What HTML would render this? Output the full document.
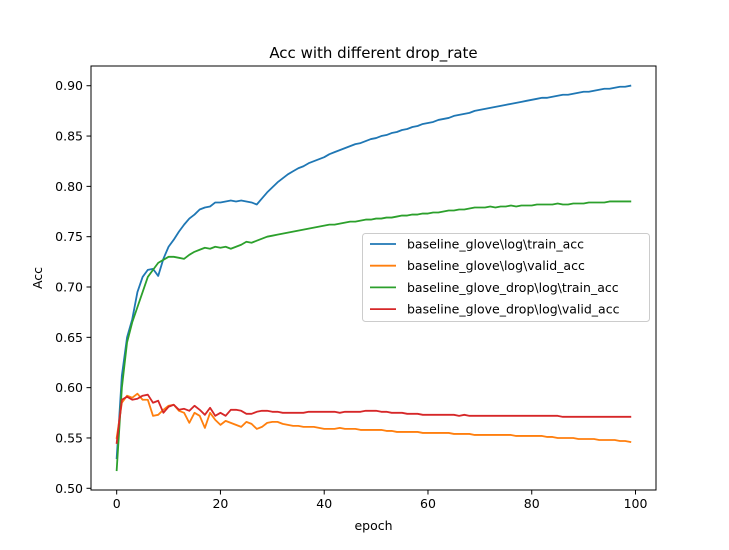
<!DOCTYPE html>
<html><head><meta charset="utf-8"><style>
body{margin:0;background:#fff;}
svg{display:block;font-family:"DejaVu Sans","Liberation Sans",sans-serif;}
</style></head><body>
<svg id="chart" width="729" height="550" viewBox="0 0 729 550"></svg>
<script>
const epochs = Array.from({length:100},(_,i)=>i);
const trainAcc = [.530,.612,.650,.668,.695,.710,.717,.718,.711,.728,
.740,.747,.755,.762,.768,.772,.777,.779,.780,.784,
.784,.785,.786,.785,.786,.785,.784,.782,.788,.794,
.799,.804,.808,.812,.815,.818,.820,.823,.825,.827,
.829,.832,.834,.836,.838,.840,.842,.843,.845,.847,
.848,.850,.851,.853,.854,.856,.857,.859,.860,.862,
.863,.864,.866,.867,.868,.870,.871,.872,.873,.875,
.876,.877,.878,.879,.880,.881,.882,.883,.884,.885,
.886,.887,.888,.888,.889,.890,.891,.891,.892,.893,
.894,.894,.895,.896,.897,.897,.898,.899,.899,.900];
const validAcc = [.550,.585,.592,.590,.594,.588,.588,.572,.573,.578,
.582,.583,.577,.575,.565,.575,.572,.560,.575,.568,
.563,.567,.565,.563,.561,.566,.564,.559,.561,.565,
.566,.566,.564,.563,.562,.562,.561,.561,.561,.560,
.559,.559,.559,.560,.559,.559,.559,.558,.558,.558,
.558,.558,.557,.557,.556,.556,.556,.556,.556,.555,
.555,.555,.555,.555,.555,.554,.554,.554,.554,.553,
.553,.553,.553,.553,.553,.553,.553,.552,.552,.552,
.552,.552,.552,.551,.551,.550,.550,.550,.550,.549,
.549,.549,.549,.548,.548,.548,.548,.547,.547,.546];
const dropTrainAcc = [.518,.600,.645,.665,.680,.695,.710,.717,.724,.727,
.730,.730,.729,.728,.732,.735,.737,.739,.738,.740,
.739,.740,.738,.740,.742,.745,.744,.746,.748,.750,
.751,.752,.753,.754,.755,.756,.757,.758,.759,.760,
.761,.762,.762,.763,.764,.765,.765,.766,.767,.767,
.768,.768,.769,.769,.770,.771,.771,.772,.772,.773,
.773,.774,.774,.775,.776,.776,.777,.777,.778,.779,
.779,.779,.780,.779,.780,.780,.781,.780,.781,.781,
.781,.782,.782,.782,.782,.783,.782,.782,.783,.783,
.783,.784,.784,.784,.784,.785,.785,.785,.785,.785];
const dropValidAcc = [.545,.588,.591,.588,.589,.592,.593,.585,.587,.575,
.581,.583,.578,.579,.577,.582,.578,.573,.580,.572,
.575,.572,.578,.578,.577,.574,.574,.576,.577,.577,
.576,.576,.575,.575,.575,.575,.575,.576,.576,.576,
.576,.576,.576,.575,.576,.576,.576,.576,.577,.577,
.577,.576,.576,.575,.575,.575,.574,.574,.574,.573,
.573,.573,.573,.573,.573,.573,.572,.573,.572,.572,
.572,.572,.572,.572,.572,.572,.572,.572,.572,.572,
.572,.572,.572,.572,.572,.572,.571,.571,.571,.571,
.571,.571,.571,.571,.571,.571,.571,.571,.571,.571];
const xTicks = [0,20,40,60,80,100];
const yTicks = [0.50,0.55,0.60,0.65,0.70,0.75,0.80,0.85,0.90];
const seriesNames = ["baseline_glove\\log\\train_acc","baseline_glove\\log\\valid_acc","baseline_glove_drop\\log\\train_acc","baseline_glove_drop\\log\\valid_acc"];
const colors = ["#1f77b4","#ff7f0e","#2ca02c","#d62728"];

const L=91,R=656,T=66,B=490;
const xMin=-4.95,xMax=103.95,yMin=0.4983,yMax=0.9196;
const sx=v=>L+(v-xMin)/(xMax-xMin)*(R-L);
const sy=v=>B-(v-yMin)/(yMax-yMin)*(B-T);
const NS="http://www.w3.org/2000/svg";
const svg=document.getElementById('chart');
function mk(tag,attrs,parent){const e=document.createElementNS(NS,tag);for(const k in attrs)e.setAttribute(k,attrs[k]);(parent||svg).appendChild(e);return e;}

const series=[trainAcc,validAcc,dropTrainAcc,dropValidAcc];
const slugs=['train-acc-line','valid-acc-line','drop-train-acc-line','drop-valid-acc-line'];
series.forEach((s,i)=>{
  const d=s.map((v,j)=>(j?'L':'M')+sx(epochs[j]).toFixed(2)+','+sy(v).toFixed(2)).join('');
  const p=mk('path',{d:d,fill:'none',stroke:colors[i],'stroke-width':1.8,'stroke-linejoin':'round','stroke-linecap':'square'});
  
  
});

const frame=mk('rect',{x:L,y:T,width:R-L,height:B-T,fill:'none',stroke:'#000','stroke-width':1});



xTicks.forEach(t=>{
  const x=sx(t);
  const tk=mk('line',{x1:x,x2:x,y1:B,y2:B+4.5,stroke:'#000','stroke-width':1});
  
  
  const tx=mk('text',{x:x,y:B+18,'font-size':12.5,'text-anchor':'middle'});
  tx.textContent=t;
  
  
});
yTicks.forEach(t=>{
  const y=sy(t);
  const tk=mk('line',{x1:L-4.5,x2:L,y1:y,y2:y,stroke:'#000','stroke-width':1});
  
  
  const tx=mk('text',{x:L-8,y:y+4.5,'font-size':12.5,'text-anchor':'end'});
  tx.textContent=t.toFixed(2);
  
  
});

const title=mk('text',{x:(L+R)/2,y:58,'font-size':15,'text-anchor':'middle'});
title.textContent='Acc with different drop_rate';


const xl=mk('text',{x:(L+R)/2,y:530,'font-size':12.5,'text-anchor':'middle'});
xl.textContent='epoch';


const yl=mk('text',{x:0,y:0,'font-size':12.5,'text-anchor':'middle',transform:'translate(42,278) rotate(-90)'});
yl.textContent='Acc';



const lg=mk('g',{});


mk('rect',{x:362.5,y:233.5,width:287,height:88,rx:3,fill:'#fff','fill-opacity':0.8,stroke:'#ccc','stroke-width':1},lg);
seriesNames.forEach((n,i)=>{
  const y=244+i*21.7;
  const ln=mk('line',{x1:370,x2:396,y1:y,y2:y,stroke:colors[i],'stroke-width':1.8},lg);
  
  
  const tx=mk('text',{x:407,y:y+4.5,'font-size':12.5},lg);
  tx.textContent=n;
  
  
});
</script>
</body></html>
